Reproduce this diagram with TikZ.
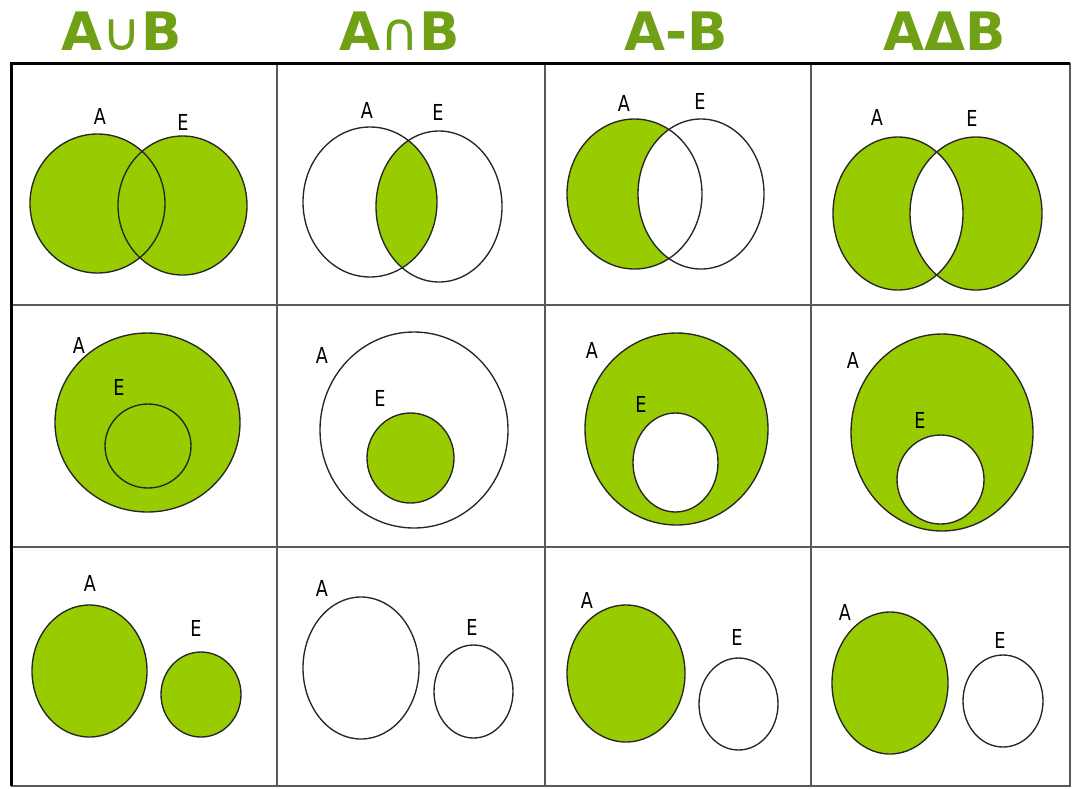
\documentclass[tikz,border=0pt]{standalone}
\usepackage{fontspec}
\setmainfont{DejaVu Sans}
\newfontfamily\labfont[FakeStretch=0.8]{DejaVu Sans}
\definecolor{vgreen}{RGB}{153,204,0}
\definecolor{hgreen}{RGB}{112,160,22}
\begin{document}
\begin{tikzpicture}[x=1pt,y=-1pt,
  ring/.style={draw=black!85, line width=1.35pt},
  greenfill/.style={fill=vgreen},
  whitefill/.style={fill=white},
  lab/.style={font=\labfont\fontsize{22}{22}\selectfont, text=black, inner sep=0pt},
  head/.style={font=\bfseries\fontsize{53}{53}\selectfont, text=hgreen, inner sep=0pt},
  gridline/.style={draw=black!65, line width=1.6pt},
  frame/.style={draw=black, line width=3pt}]
\useasboundingbox (0,0) rectangle (1073,788);

% headers
\node[head] (h1) at (122,31) {A{\mdseries∪}B};
\node[head] (h2) at (400,31) {A{\mdseries∩}B};
\node[head] (h3) at (676,31) {A-B};
\node[head] (h4) at (945,31) {AΔB};

% grid
\draw[gridline] (277,63) -- (277,786);
\draw[gridline] (545,63) -- (545,786);
\draw[gridline] (811,63) -- (811,786);
\draw[gridline] (11,305) -- (1070,305);
\draw[gridline] (11,547) -- (1070,547);
\draw[gridline] (11,786) -- (1070,786) -- (1070,63);
\draw[frame] (11,786) -- (11,63) -- (1070,63);

% ---------- row 1 ----------
% union
\fill[greenfill] (97.5,203.5) ellipse [x radius=67.5, y radius=69.5];
\fill[greenfill] (182.5,205.5) ellipse [x radius=64.5, y radius=69.5];
\draw[ring] (97.5,203.5) ellipse [x radius=67.5, y radius=69.5];
\draw[ring] (182.5,205.5) ellipse [x radius=64.5, y radius=69.5];
\node[lab] (a11) at (100,116) {A};
\node[lab] (b11) at (183,122) {E};
% intersection
\begin{scope}
  \clip (370,202) ellipse [x radius=67, y radius=75];
  \fill[greenfill] (439,206.5) ellipse [x radius=63, y radius=75.5];
\end{scope}
\draw[ring] (370,202) ellipse [x radius=67, y radius=75];
\draw[ring] (439,206.5) ellipse [x radius=63, y radius=75.5];
\node[lab] (a12) at (367,110) {A};
\node[lab] (b12) at (438,112) {E};
% difference
\fill[greenfill] (634.5,194) ellipse [x radius=67.5, y radius=75];
\begin{scope}
  \clip (634.5,194) ellipse [x radius=67.5, y radius=75];
  \fill[whitefill] (701,194) ellipse [x radius=63, y radius=75];
\end{scope}
\draw[ring] (634.5,194) ellipse [x radius=67.5, y radius=75];
\draw[ring] (701,194) ellipse [x radius=63, y radius=75];
\node[lab] (a13) at (624,103) {A};
\node[lab] (b13) at (700,101) {E};
% symmetric difference
\fill[greenfill, even odd rule] (898,213.5) ellipse [x radius=65, y radius=76.5]
  (976,213.5) ellipse [x radius=66, y radius=76.5];
\draw[ring] (898,213.5) ellipse [x radius=65, y radius=76.5];
\draw[ring] (976,213.5) ellipse [x radius=66, y radius=76.5];
\node[lab] (a14) at (877,117) {A};
\node[lab] (b14) at (972,118) {E};

% ---------- row 2 ----------
\fill[greenfill] (147.5,422.5) ellipse [x radius=92.5, y radius=89.5];
\draw[ring] (147.5,422.5) ellipse [x radius=92.5, y radius=89.5];
\draw[ring] (148,446) ellipse [x radius=43, y radius=42];
\node[lab] (a21) at (79,345) {A};
\node[lab] (b21) at (119,387) {E};

\draw[ring] (414,430) ellipse [x radius=94, y radius=98];
\fill[greenfill] (410.5,458) ellipse [x radius=43.5, y radius=45];
\draw[ring] (410.5,458) ellipse [x radius=43.5, y radius=45];
\node[lab] (a22) at (322,355) {A};
\node[lab] (b22) at (380,398) {E};

\fill[greenfill] (676.5,429) ellipse [x radius=91.5, y radius=96];
\fill[whitefill] (675.5,462.5) ellipse [x radius=42.5, y radius=49.5];
\draw[ring] (676.5,429) ellipse [x radius=91.5, y radius=96];
\draw[ring] (675.5,462.5) ellipse [x radius=42.5, y radius=49.5];
\node[lab] (a23) at (592,350) {A};
\node[lab] (b23) at (641,404) {E};

\fill[greenfill] (942,432.5) ellipse [x radius=91, y radius=98.5];
\fill[whitefill] (940.5,479.5) ellipse [x radius=43.5, y radius=44.5];
\draw[ring] (942,432.5) ellipse [x radius=91, y radius=98.5];
\draw[ring] (940.5,479.5) ellipse [x radius=43.5, y radius=44.5];
\node[lab] (a24) at (853,360) {A};
\node[lab] (b24) at (920,420) {E};

% ---------- row 3 ----------
\fill[greenfill] (89.5,671) ellipse [x radius=57.5, y radius=66];
\fill[greenfill] (201,694.5) ellipse [x radius=40, y radius=42.5];
\draw[ring] (89.5,671) ellipse [x radius=57.5, y radius=66];
\draw[ring] (201,694.5) ellipse [x radius=40, y radius=42.5];
\node[lab] (a31) at (90,583) {A};
\node[lab] (b31) at (196,628) {E};

\draw[ring] (361,668) ellipse [x radius=58, y radius=71];
\draw[ring] (473.5,691.5) ellipse [x radius=39.5, y radius=46.5];
\node[lab] (a32) at (322,588) {A};
\node[lab] (b32) at (472,627) {E};

\fill[greenfill] (626,673.5) ellipse [x radius=59, y radius=68.5];
\draw[ring] (626,673.5) ellipse [x radius=59, y radius=68.5];
\draw[ring] (738.5,704) ellipse [x radius=39.5, y radius=46];
\node[lab] (a33) at (587,600) {A};
\node[lab] (b33) at (737,637) {E};

\fill[greenfill] (890,683) ellipse [x radius=58, y radius=71];
\draw[ring] (890,683) ellipse [x radius=58, y radius=71];
\draw[ring] (1003,701) ellipse [x radius=40, y radius=46];
\node[lab] (a34) at (845,612) {A};
\node[lab] (b34) at (1000,640) {E};
\end{tikzpicture}
\end{document}
